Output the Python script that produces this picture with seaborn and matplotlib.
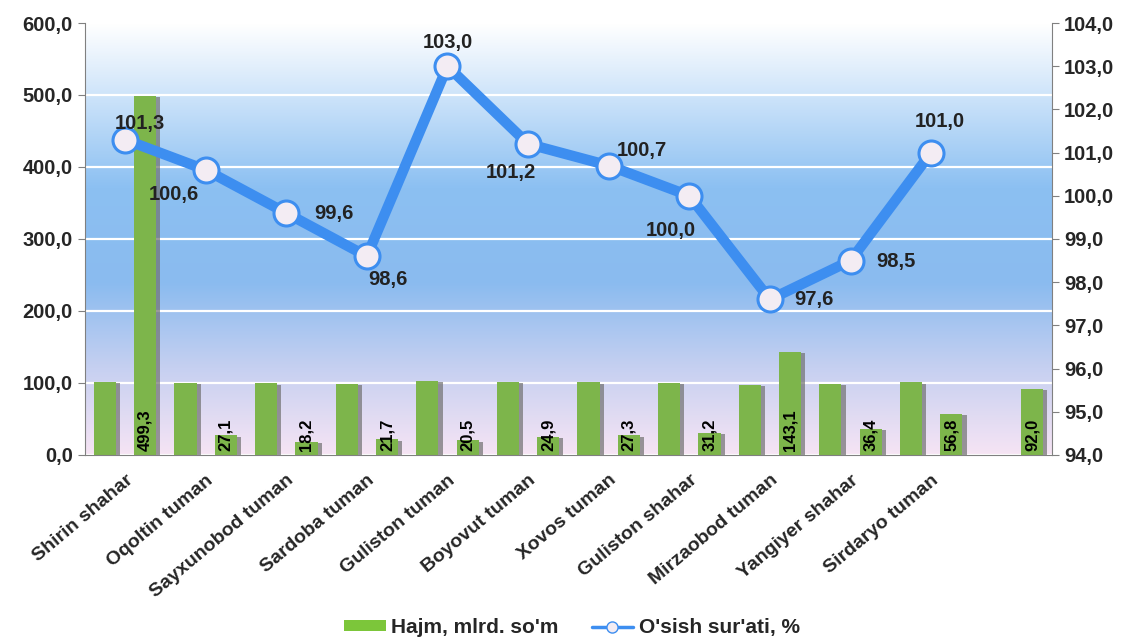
import matplotlib.pyplot as plt
import matplotlib.patheffects as pe
from matplotlib.colors import LinearSegmentedColormap
from matplotlib.lines import Line2D
from matplotlib.patches import Patch
import numpy as np
import pandas as pd
import seaborn as sns

sns.set_style("white")
plt.rcParams['font.family'] = ['Liberation Sans', 'DejaVu Sans']

# Data
districts = ["Shirin shahar", "Oqoltin tuman", "Sayxunobod tuman", "Sardoba tuman",
             "Guliston tuman", "Boyovut tuman", "Xovos tuman", "Guliston shahar",
             "Mirzaobod tuman", "Yangiyer shahar", "Sirdaryo tuman", ""]
hajm = [499.3, 27.1, 18.2, 21.7, 20.5, 24.9, 27.3, 31.2, 143.1, 36.4, 56.8, 92.0]
osish = [101.3, 100.6, 99.6, 98.6, 103.0, 101.2, 100.7, 100.0, 97.6, 98.5, 101.0, np.nan]

green = "#7cc63a"
blue = "#3d8ef0"

def fmt(v):
    return f"{v:.1f}".replace(".", ",")

n = len(districts)
df = pd.DataFrame({
    "slot": list(range(n)) * 2,
    "value": osish + hajm,
    "series": ["osish"] * n + ["hajm"] * n,
})

fig = plt.figure(figsize=(11.3, 6.39), dpi=100)
ax = fig.add_axes([0.075, 0.288, 0.856, 0.676])

# plot area gradient (white on top, blue in the middle, pinkish at the bottom)
cmap = LinearSegmentedColormap.from_list("bg", [
    (0.0, "#ffffff"), (0.1, "#e2effc"), (0.38, "#8cc0f2"), (0.6, "#8abbef"),
    (0.8, "#c6d0f1"), (1.0, "#f6e4f4")])
grad = np.linspace(0, 1, 256).reshape(-1, 1)
ax.imshow(grad, extent=[-0.5, n - 0.5, 0, 600], origin="upper", aspect="auto",
          cmap=cmap, zorder=0, interpolation="bicubic")

sns.barplot(data=df, x="slot", y="value", hue="series", hue_order=["osish", "hajm"],
            palette=[green, green], width=1.0, gap=0.45, errorbar=None,
            legend=False, ax=ax, zorder=2)
for bar in ax.patches:
    bar.set_path_effects([pe.SimplePatchShadow(offset=(3, -1), shadow_rgbFace="#707070", alpha=0.7),
                          pe.Normal()])
    bar.set_edgecolor("none")

# value labels inside the volume bars
for i, v in enumerate(hajm):
    ax.text(i + 0.25, 6, fmt(v), rotation=90, ha="center", va="bottom",
            fontsize=12, fontweight="bold", color="black", zorder=5)

ax.set_xlim(-0.5, n - 0.5)
ax.set_ylim(0, 600)
ax.set_yticks(np.arange(0, 601, 100))
ax.set_yticklabels([fmt(v) for v in np.arange(0, 601, 100)], fontsize=14.5, fontweight="bold")
ax.grid(axis="y", color="white", linewidth=1.6)
ax.set_axisbelow(True)
for gl in ax.get_ygridlines():
    gl.set_zorder(1)

ax.set_xticks(range(n))
ax.set_xticklabels(districts, rotation=40, ha="right", va="top", rotation_mode="anchor",
                   fontsize=14, fontweight="bold")
ax.set_xticks(np.arange(-0.5, n, 1), minor=True)
ax.tick_params(axis="x", which="major", length=0, pad=12)
ax.tick_params(axis="x", which="minor", length=5, color="#808080", direction="out")
ax.tick_params(axis="y", length=5, color="#808080", direction="out")
ax.set_xlabel("")
ax.set_ylabel("")

# growth rate line on the right axis
ax2 = ax.twinx()
xs = list(range(len(osish) - 1))
sns.lineplot(x=xs, y=osish[:-1], ax=ax2, color=blue, linewidth=7.5, marker="o",
             markersize=18, markerfacecolor="#f3ecf3", markeredgecolor=blue,
             markeredgewidth=2.2, zorder=6)
ax2.set_ylim(94, 104)
ax2.set_yticks(np.arange(94, 104.1, 1))
ax2.set_yticklabels([fmt(v) for v in np.arange(94, 104.1, 1)], fontsize=14.5, fontweight="bold")
ax2.tick_params(axis="y", length=5, color="#808080", direction="out")
ax2.set_xlim(-0.5, n - 0.5)

offsets = [(15, 16), (-32, -25), (48, 0), (21, -23), (0, 24), (-17, -29),
           (33, 15), (-18, -35), (44, 0), (45, -1), (9, 31)]
for x, y, off in zip(xs, osish[:-1], offsets):
    ax2.annotate(fmt(y), (x, y), xytext=off, textcoords="offset pixels",
                 ha="center", va="center", fontsize=14.5, fontweight="bold",
                 color="#222222", zorder=7)

for a in (ax, ax2):
    a.spines["top"].set_visible(False)
    for s in ("left", "right", "bottom"):
        a.spines[s].set_color("#808080")
ax.spines["right"].set_visible(False)
ax2.spines["left"].set_visible(False)
ax2.spines["bottom"].set_visible(False)

handles = [Patch(facecolor=green, edgecolor="none"),
           Line2D([0], [0], color=blue, linewidth=2.5, marker="o", markersize=8,
                  markerfacecolor="#f3ecf3", markeredgecolor=blue)]
fig.legend(handles, ["Hajm, mlrd. so'm", "O'sish sur'ati, %"], loc="center",
           bbox_to_anchor=(0.506, 0.018), ncol=2, frameon=False, handlelength=2.0,
           handleheight=0.4, columnspacing=1.6, handletextpad=0.25,
           prop={"size": 15, "weight": "bold"})

fig.savefig("out.png", dpi=100)
